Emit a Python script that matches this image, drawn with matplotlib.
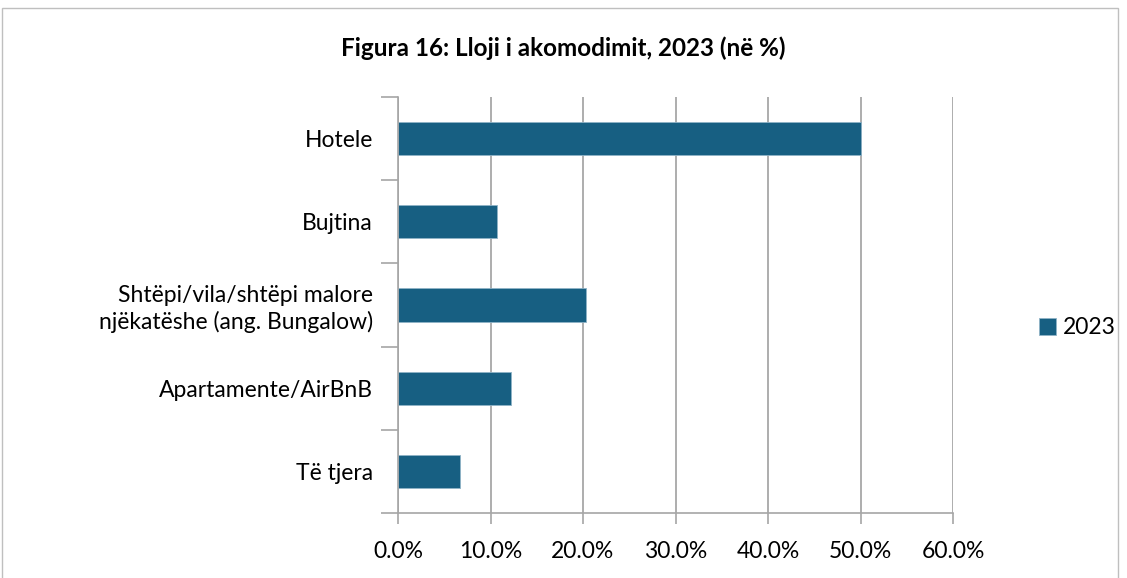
import matplotlib.pyplot as plt
from matplotlib.patches import Rectangle

categories = ["Hotele", "Bujtina", "Shtëpi/vila/shtëpi malore\nnjëkatëshe (ang. Bungalow)",
              "Apartamente/AirBnB", "Të tjera"]
values = [50.0, 10.7, 20.3, 12.2, 6.7]
ticks = [0, 10, 20, 30, 40, 50, 60]
color = "#175F82"

plt.rcParams['font.family'] = ['Lato', 'DejaVu Sans']

fig = plt.figure(figsize=(11.27, 5.78), dpi=100)
ax = fig.add_axes([398/1127, 1-513/578, (953-398)/1127, (513-97)/578])

pos = list(range(len(categories)))[::-1]
bars = ax.barh(pos, values, height=0.4, color=color, edgecolor="#8fb3c7", linewidth=0.6, label="2023")
ax.set_xlim(0, 60)
ax.set_ylim(-0.5, len(categories) - 0.5)
ax.set_xticks(ticks)
ax.set_xticklabels([f"{t:.1f}%" for t in ticks], fontsize=16.5)
ax.set_yticks(pos)
ax.set_yticklabels(categories, fontsize=16.5, linespacing=1.25)
ax.set_yticks([p + 0.5 for p in pos] + [-0.5], minor=True)
ax.tick_params(axis='y', which='major', length=0, pad=18)
ax.tick_params(axis='y', which='minor', length=12, color="#a6a6a6", width=1.2)
ax.tick_params(axis='x', length=8, color="#a6a6a6", width=1.2, pad=12)
ax.grid(axis='x', color="#a0a0a0", linewidth=1.2)
ax.set_axisbelow(True)
for s in ["top", "right"]:
    ax.spines[s].set_visible(False)
for s in ["left", "bottom"]:
    ax.spines[s].set_color("#a6a6a6")
    ax.spines[s].set_linewidth(1.2)

fig.text(0.5, 1-48/578, "Figura 16: Lloji i akomodimit, 2023 (në %)", ha='center', va='center',
         fontsize=17.5, fontweight='bold')
fig.legend(handles=[bars], labels=["2023"], loc='center left', bbox_to_anchor=(1018/1127, 1-328/578),
           frameon=False, fontsize=16.5, handlelength=0.75, handleheight=0.75, handletextpad=0.3)
fig.patches.append(Rectangle((2/1127, -0.01), (1118-2)/1127, 1-8/578 + 0.01, transform=fig.transFigure,
                             fill=False, edgecolor="#bfbfbf", linewidth=1))

fig.savefig("out.png", dpi=100)
